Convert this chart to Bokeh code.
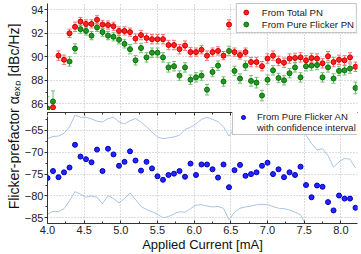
import math
from bokeh.plotting import figure
from bokeh.models import (Range1d, SingleIntervalTicker, LinearAxis, Legend, LegendItem,
                          ColumnDataSource, Whisker, TeeHead, Label, PrintfTickFormatter)
from bokeh.layouts import row, column
from bokeh.embed import file_html
from bokeh.resources import INLINE

# ---------------- data ----------------
current_ma = [4.000, 4.075, 4.150, 4.225, 4.300, 4.375, 4.450, 4.525, 4.600, 4.675,
              4.750, 4.825, 4.900, 4.975, 5.050, 5.125, 5.200, 5.275, 5.350, 5.425,
              5.500, 5.575, 5.650, 5.725, 5.800, 5.875, 5.950, 6.025, 6.100, 6.175,
              6.250, 6.325, 6.400, 6.475, 6.550, 6.625, 6.700, 6.775, 6.850, 6.925,
              7.000, 7.075, 7.150, 7.225, 7.300, 7.375, 7.450, 7.525, 7.600, 7.675,
              7.750, 7.825, 7.900, 7.975, 8.050, 8.125, 8.200]

nan = float("nan")
total_pn = [nan, 85.7, 90.1, 89.75, 92.0, 92.55, 93.0, 92.8, 92.8, 93.15,
            92.75, 92.7, 92.6, 92.2, 92.2, 92.1, 91.55, 91.85, 91.6, 91.5,
            91.5, 91.5, 91.0, 91.0, 90.65, 90.95, 90.4, 90.4, 90.6, 90.1,
            90.4, 90.5, 90.1, 92.75, 90.4, 90.15, 90.4, 89.55, 89.55, 89.2,
            89.85, 90.1, 89.65, 89.5, 89.85, 89.9, 89.95, 89.7, 89.9, 89.85,
            89.45, 90.05, 89.55, 89.75, 89.7, 89.95, 89.15]
total_pn_err = [nan, 0.3, 0.4, 0.4, 0.35, 0.4, 0.35, 0.35, 0.35, 0.35,
                0.35, 0.35, 0.35, 0.35, 0.35, 0.35, 0.4, 0.4, 0.4, 0.4,
                0.4, 0.4, 0.4, 0.4, 0.4, 0.4, 0.4, 0.35, 0.35, 0.4,
                0.35, 0.35, 0.35, 0.4, 0.35, 0.35, 0.35, 0.4, 0.4, 0.4,
                0.4, 0.4, 0.4, 0.4, 0.4, 0.4, 0.4, 0.4, 0.4, 0.4,
                0.4, 0.4, 0.4, 0.4, 0.4, 0.4, 0.4]

flicker_pn = [85.6, 86.2, nan, nan, 89.6, 90.7, 92.35, 92.2, 91.8, 92.5,
              92.1, 91.8, 91.7, 91.45, 91.1, 90.65, 89.7, 90.75, 89.95, 90.35,
              90.35, 89.95, 89.1, 89.2, 88.4, 89.1, 88.05, 88.25, 88.4, 87.2,
              88.7, 89.25, 87.9, 90.5, 88.8, 88.15, 89.25, 87.95, 87.8, 86.7,
              88.05, 88.85, 88.2, 88.0, 88.6, 89.1, 88.25, 89.2, 89.25, 89.3,
              88.25, 89.1, 88.15, 88.8, 88.85, 89.0, 87.35]
flicker_pn_err = [1.0, 0.9, nan, nan, 0.4, 0.4, 0.35, 0.35, 0.35, 0.35,
                  0.35, 0.35, 0.35, 0.35, 0.35, 0.4, 0.4, 0.4, 0.4, 0.4,
                  0.4, 0.4, 0.4, 0.4, 0.4, 0.4, 0.4, 0.4, 0.4, 0.45,
                  0.4, 0.4, 0.4, 0.4, 0.4, 0.4, 0.4, 0.45, 0.45, 0.45,
                  0.4, 0.4, 0.4, 0.4, 0.4, 0.4, 0.4, 0.4, 0.4, 0.4,
                  0.4, 0.4, 0.4, 0.4, 0.4, 0.4, 0.5]

flicker_an = [-75.9, -74.3, -75.7, -74.6, -73.5, -68.3, -71.0, -71.6, -72.3, -69.4,
              -74.3, -69.2, -70.5, -73.1, -72.2, -69.8, -71.9, -74.2, -72.2, -73.7,
              -75.5, -76.3, -75.2, -74.9, -74.3, -75.6, -72.6, -75.2, -72.8, -72.8,
              -73.9, -75.8, -72.8, -78.0, -74.1, -72.9, -75.4, -75.0, -74.6, -73.1,
              -72.4, -75.0, -73.9, -75.7, -74.6, -75.2, -73.3, -77.5, -80.3, -77.6,
              -77.9, -81.4, -83.3, -79.9, -80.6, -80.6, -82.7]
an_ci_upper = [-66.9, -66.4, -66.3, -65.7, -64.2, -61.5, -62.0, -62.0, -62.4, -62.9,
               -63.1, -62.3, -62.0, -63.1, -63.5, -62.8, -62.3, -63.1, -64.2, -65.4,
               -66.5, -66.9, -66.7, -66.5, -66.1, -64.8, -64.3, -63.5, -62.5, -62.0,
               -62.5, -63.0, -64.2, -66.3, -64.5, -63.5, -63.3, -62.8, -62.5, -62.9,
               -63.4, -63.0, -62.6, -62.8, -63.2, -63.8, -63.6, -66.1, -68.0, -69.5,
               -69.2, -70.8, -73.4, -72.2, -71.4, -71.6, -73.6]
an_ci_lower = [-84.2, -83.5, -83.6, -82.9, -81.1, -79.0, -79.6, -80.3, -80.0, -80.3,
               -81.8, -79.9, -80.6, -81.6, -80.6, -79.3, -80.8, -82.4, -83.1, -83.6,
               -84.2, -85.0, -84.7, -84.1, -83.6, -83.7, -82.9, -82.1, -82.0, -82.3,
               -82.5, -82.4, -82.8, -85.45, -83.7, -82.8, -82.5, -82.3, -82.0, -81.9,
               -82.0, -82.4, -82.8, -82.9, -83.2, -83.7, -84.3, -86.6, -88.5, -89.5,
               -90.0, -89.5, -89.0, -89.5, -90.0, -90.5, -90.0]

top_labels = ["From Total PN", "From Pure Flicker PN"]
bottom_labels = ["From Pure Flicker AN", "with confidence interval"]
x_title = "Applied Current [mA]"
y_title = "Flicker-prefactor \u03b1\u2091\u2093\u209a [dBc/Hz]"

# ---------------- style ----------------
FONT = "Liberation Sans"
AX = "#333333"
GRID = "#b8b8b8"
RED, RED_E = "#ff2020", "#ff7070"
GRN, GRN_E = "#1f9a1f", "#70c070"
BLU = "#2424ff"
CI = "#a9c4e4"


def valid(xs, ys, es):
    xx, yy, lo, hi = [], [], [], []
    for x, y, e in zip(xs, ys, es):
        if y == y:
            xx.append(x); yy.append(y); lo.append(y - e); hi.append(y + e)
    return ColumnDataSource(dict(x=xx, y=yy, lo=lo, hi=hi))


def style_left(ax, ticker):
    ax.ticker = ticker
    ax.axis_line_color = AX
    ax.major_tick_line_color = AX
    ax.minor_tick_line_color = AX
    ax.major_tick_out = 3
    ax.major_tick_in = 0
    ax.minor_tick_out = 2
    ax.minor_tick_in = 0
    ax.major_label_standoff = 1
    ax.major_label_text_font = FONT
    ax.major_label_text_font_size = "11px"
    ax.major_label_text_color = "#222222"


x_rng = Range1d(4.0, 8.227)

# ---------------- top panel ----------------
top = figure(width=337, height=110, x_range=x_rng, y_range=Range1d(85.43, 94.536),
             toolbar_location=None, output_backend="svg", x_axis_location=None,
             min_border_left=20, min_border_right=1, min_border_top=3, min_border_bottom=0)
top.outline_line_color = None
style_left(top.yaxis[0], SingleIntervalTicker(interval=2, num_minor_ticks=2))
top.xgrid.ticker = SingleIntervalTicker(interval=0.5)
top.grid.grid_line_color = GRID
top.grid.grid_line_dash = "1 2"

src_r = valid(current_ma, total_pn, total_pn_err)
src_g = valid(current_ma, flicker_pn, flicker_pn_err)
for src, col in ((src_r, RED_E), (src_g, GRN_E)):
    top.add_layout(Whisker(base="x", upper="hi", lower="lo", source=src,
                           line_color=col, line_width=1,
                           upper_head=TeeHead(size=4, line_color=col, line_width=1),
                           lower_head=TeeHead(size=4, line_color=col, line_width=1)))
r_red = top.scatter("x", "y", source=src_r, size=5, fill_color=RED, line_color="#d00000")
r_grn = top.scatter("x", "y", source=src_g, size=5, fill_color=GRN, line_color="#0d6d0d")

leg_top = Legend(items=[LegendItem(label=top_labels[0], renderers=[r_red]),
                        LegendItem(label=top_labels[1], renderers=[r_grn])],
                 location="top_right", margin=0, padding=2, spacing=0,
                 glyph_width=14, glyph_height=12, label_height=12, label_standoff=9,
                 label_text_font=FONT, label_text_font_size="9.6px",
                 label_text_color="#202020", border_line_color="#8c8c8c",
                 background_fill_color="white", background_fill_alpha=1.0)
top.add_layout(leg_top)

# ---------------- bottom panel ----------------
bot = figure(width=337, height=144, x_range=x_rng, y_range=Range1d(-86.29, -60.92),
             toolbar_location=None, output_backend="svg",
             min_border_left=20, min_border_right=1, min_border_top=2, min_border_bottom=30)
bot.outline_line_color = None
style_left(bot.yaxis[0], SingleIntervalTicker(interval=5, num_minor_ticks=2))
bot.yaxis[0].bounds = (-86.29, -61.83)

xa = bot.xaxis[0]
xa.ticker = SingleIntervalTicker(interval=0.5, num_minor_ticks=2)
xa.formatter = PrintfTickFormatter(format="%.1f")
xa.axis_line_color = AX
xa.major_tick_line_color = AX
xa.minor_tick_line_color = AX
xa.major_tick_in = 3
xa.major_tick_out = 0
xa.minor_tick_in = 2
xa.minor_tick_out = 0
xa.major_label_standoff = 2
xa.major_label_text_font = FONT
xa.major_label_text_font_size = "11px"
xa.major_label_text_color = "#222222"
xa.axis_label = x_title
xa.axis_label_standoff = 0
xa.axis_label_text_font = FONT
xa.axis_label_text_font_size = "13px"
xa.axis_label_text_font_style = "normal"
xa.axis_label_text_color = "#111111"

top_x = LinearAxis(ticker=SingleIntervalTicker(interval=0.5, num_minor_ticks=2),
                   axis_line_color=AX, major_tick_line_color=AX, minor_tick_line_color=AX,
                   major_tick_in=3, major_tick_out=0, minor_tick_in=2, minor_tick_out=0,
                   major_label_standoff=0, major_label_text_font_size="0px",
                   major_label_text_alpha=0)
bot.add_layout(top_x, "above")

bot.grid.grid_line_color = GRID
bot.grid.grid_line_dash = "1 2"

bot.line(current_ma, an_ci_upper, line_color=CI, line_width=1)
bot.line(current_ma, an_ci_lower, line_color=CI, line_width=1)
r_blu = bot.scatter(current_ma, flicker_an, size=5, fill_color=BLU, line_color="#0000c0")
r_dummy = bot.scatter([], [], size=5, fill_alpha=0, line_alpha=0)

leg_bot = Legend(items=[LegendItem(label=bottom_labels[0], renderers=[r_blu]),
                        LegendItem(label=bottom_labels[1], renderers=[r_dummy])],
                 location=(185, 88), margin=0, padding=1, spacing=0,
                 glyph_width=18, glyph_height=10, label_height=10, label_standoff=5,
                 label_text_font=FONT, label_text_font_size="9.5px",
                 label_text_color="#202020", border_line_color="#8c8c8c",
                 background_fill_color="white", background_fill_alpha=1.0)
bot.add_layout(leg_bot)

# ---------------- y title strip ----------------
lab = figure(width=21, height=254, x_range=Range1d(0, 1), y_range=Range1d(0, 1),
             toolbar_location=None, output_backend="svg", x_axis_location=None,
             y_axis_location=None, min_border=0)
lab.outline_line_color = None
lab.grid.visible = False
lab.add_layout(Label(x=13, y=138, x_units="screen", y_units="screen", text=y_title,
                     angle=math.pi / 2, text_align="center", text_baseline="middle",
                     text_font=FONT, text_font_size="14px", text_color="#111111"))

layout = row(lab, column(top, bot))
open("out.html", "w").write(file_html(layout, INLINE))
